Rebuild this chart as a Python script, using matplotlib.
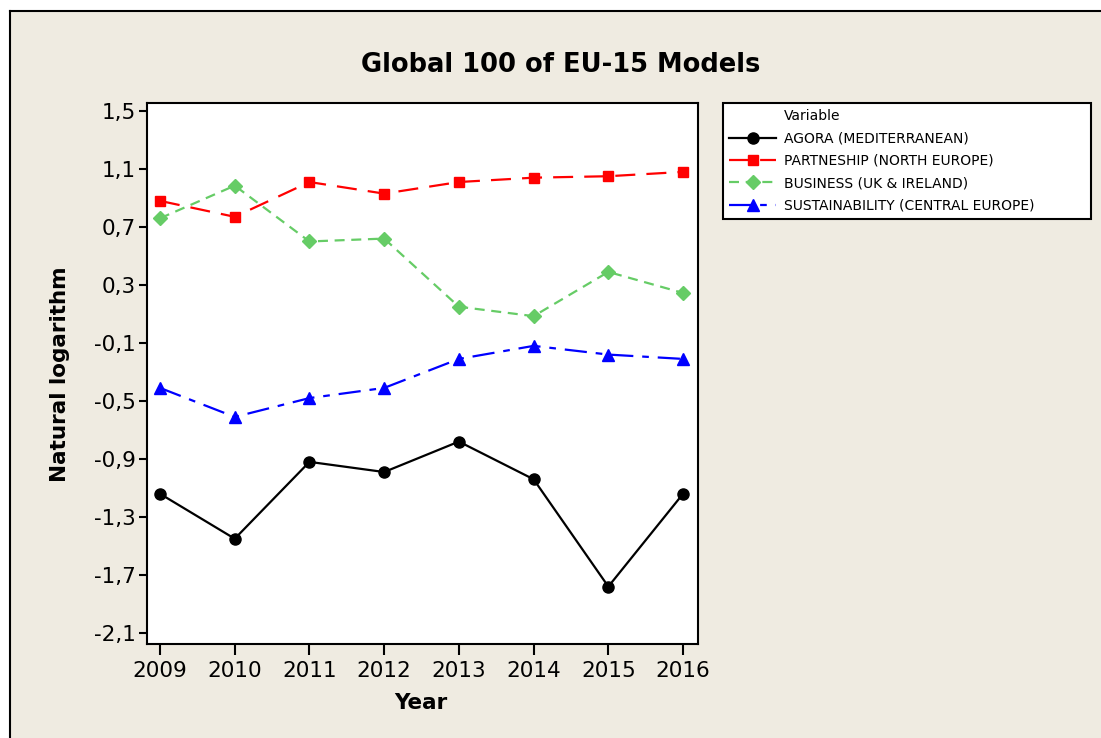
import matplotlib.pyplot as plt
from matplotlib.lines import Line2D
from matplotlib.patches import Rectangle
from matplotlib.ticker import FuncFormatter

years = [2009, 2010, 2011, 2012, 2013, 2014, 2015, 2016]
agora = [-1.14, -1.45, -0.92, -0.99, -0.78, -1.04, -1.78, -1.14]
partnership = [0.88, 0.77, 1.01, 0.93, 1.01, 1.04, 1.05, 1.08]
business = [0.76, 0.985, 0.60, 0.62, 0.15, 0.085, 0.39, 0.245]
sustainability = [-0.41, -0.61, -0.48, -0.41, -0.21, -0.12, -0.18, -0.21]
yticks = [1.5, 1.1, 0.7, 0.3, -0.1, -0.5, -0.9, -1.3, -1.7, -2.1]

beige = "#efebe1"

fig = plt.figure(figsize=(11.01, 7.38), dpi=100)
fig.patch.set_facecolor("white")
fig.patch.set_linewidth(0)
# minitab-style outer frame (only top and left edges visible)
fx, fy = 10 / 1101, 1 - 11 / 738
fig.patches.append(Rectangle((fx, 0), 1.0, fy, transform=fig.transFigure,
                             facecolor=beige, edgecolor="none", linewidth=0,
                             zorder=-10))
fig.add_artist(Line2D([fx, 1.0], [fy, fy], transform=fig.transFigure,
                      color="black", linewidth=1.5))
fig.add_artist(Line2D([fx, fx], [0, fy], transform=fig.transFigure,
                      color="black", linewidth=1.5))

ax = fig.add_axes([147 / 1101, 1 - 644 / 738, 551 / 1101, 541 / 738])
ax.set_facecolor("white")

ax.plot(years, agora, color="black", marker="o", markersize=8, linewidth=1.6,
        label="AGORA (MEDITERRANEAN)")
ax.plot(years, partnership, color="#ff0000", marker="s", markersize=7.5,
        linewidth=1.6, dashes=(9, 5), label="PARTNESHIP (NORTH EUROPE)")
ax.plot(years, business, color="#66cc66", marker="D", markersize=7.5,
        linewidth=1.6, dashes=(4.5, 3), label="BUSINESS (UK & IRELAND)")
ax.plot(years, sustainability, color="#0000ff", marker="^", markersize=9,
        linewidth=1.6, dashes=(10, 4, 3, 4), label="SUSTAINABILITY (CENTRAL EUROPE)")

ax.set_xlim(2008.826, 2016.2)
ax.set_ylim(-2.176, 1.555)
ax.set_xticks(years)
ax.set_yticks(yticks)
ax.yaxis.set_major_formatter(FuncFormatter(lambda v, p: ("%.1f" % v).replace(".", ",")))
ax.tick_params(axis="both", direction="out", labelsize=15.5, width=1.5, color="black")
ax.tick_params(axis="y", length=6, pad=2)
ax.tick_params(axis="x", length=8, pad=4)
for s in ax.spines.values():
    s.set_linewidth(1.5)

fig.text(561 / 1101, 1 - 65 / 738, "Global 100 of EU-15 Models", ha="center",
         va="center", fontsize=18.5, fontweight="bold")
fig.text(60 / 1101, 1 - 374 / 738, "Natural logarithm", ha="center", va="center",
         rotation=90, fontsize=15.5, fontweight="bold")
fig.text(421 / 1101, 1 - 703 / 738, "Year", ha="center", va="center",
         fontsize=15.5, fontweight="bold")

handles, labels = ax.get_legend_handles_labels()
dummy = Line2D([], [], linestyle="none", marker=None)
leg = fig.legend([dummy] + handles, ["Variable"] + labels, loc="upper left",
                 bbox_to_anchor=(723 / 1101, 1 - 103 / 738, 368 / 1101, 0.0),
                 mode="expand", borderaxespad=0, fontsize=10, frameon=True,
                 fancybox=False, edgecolor="black", framealpha=1,
                 handlelength=3.4, labelspacing=0.6, handletextpad=0.55,
                 borderpad=0.45, markerscale=1.0)
leg.get_frame().set_linewidth(1.5)

fig.savefig("out.png", dpi=100, facecolor=fig.get_facecolor())
